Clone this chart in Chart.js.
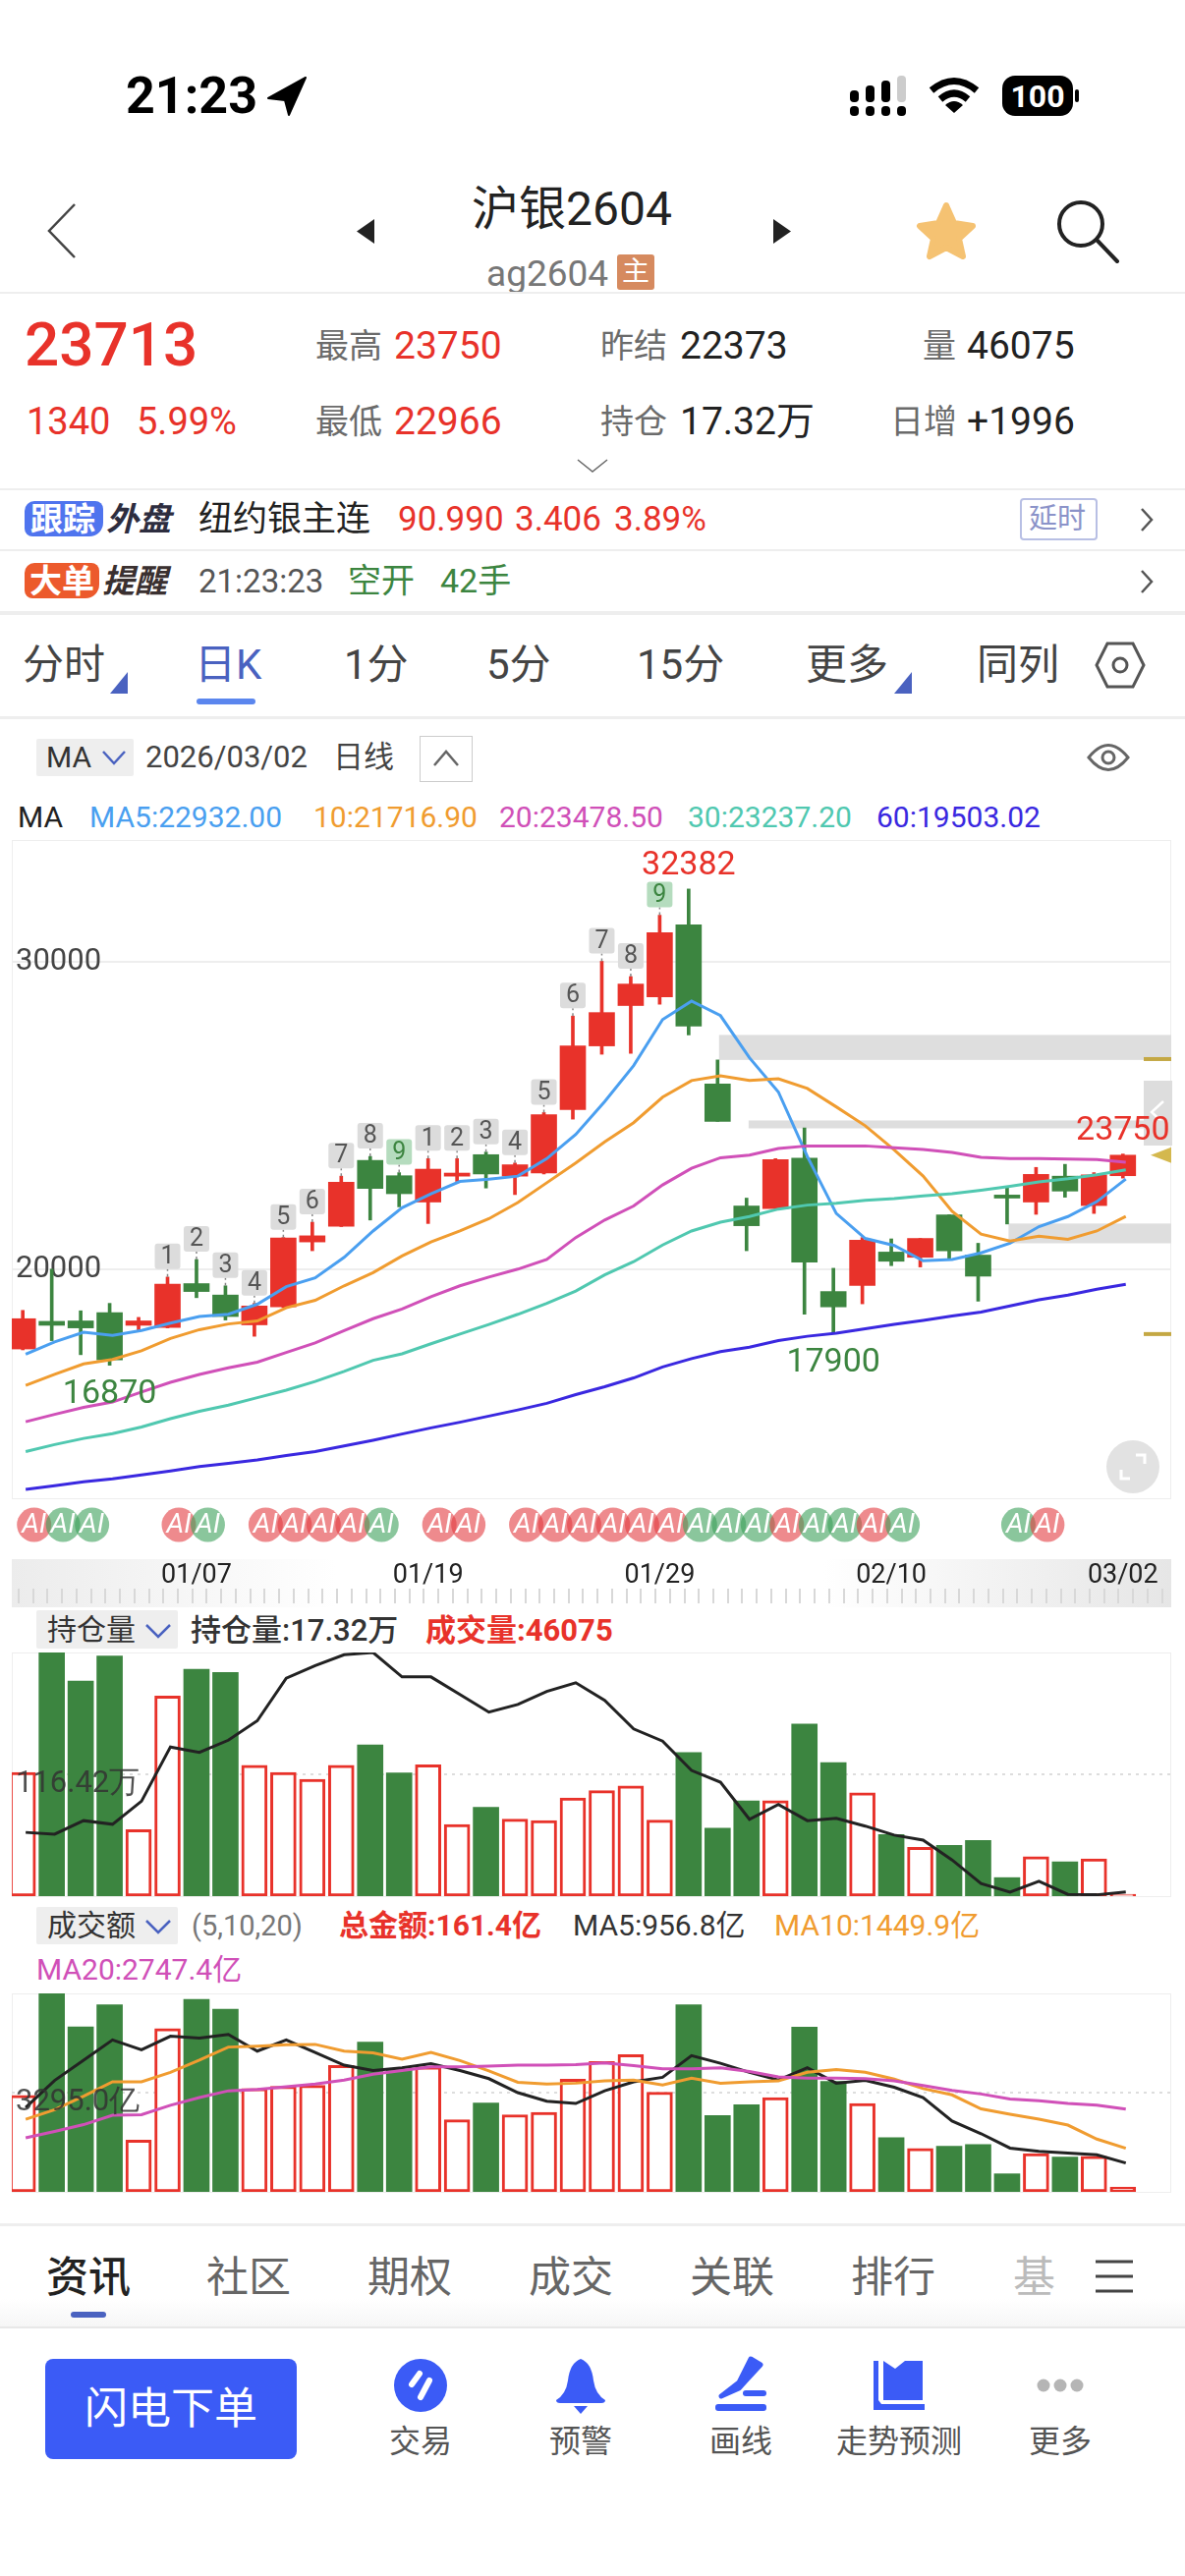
<!DOCTYPE html>
<html>
<head>
<meta charset="utf-8">
<script src="https://cdn.jsdelivr.net/npm/chart.js@4"></script>
<style>
html, body { margin: 0; padding: 0; background: #fff; }
#page { position: relative; width: 1206px; height: 2622px; overflow: hidden; font-family: Roboto, "Noto Sans CJK SC", sans-serif; color: #333; }
.t { position: absolute; white-space: nowrap; line-height: 1; transform: translateY(-50%); }
.b { position: absolute; }
.g { color: #6b6b6b; }
.r { color: #e8322a; }
canvas { position: absolute; }
svg { position: absolute; overflow: visible; }
</style>
</head>
<body>
<div id="page">
  <!-- status bar -->
  <div class="t" style="left:128px;top:98px;font-size:52px;font-weight:700;color:#000">21:23</div>
  <svg style="left:273px;top:79px" width="40" height="38"><path d="M38 0 L0 21 L17 23 L21 38 Z" fill="#000" stroke="#000" stroke-width="2" stroke-linejoin="round"/></svg>
  <svg style="left:865px;top:77px" width="60" height="42" fill="#000">
    <rect x="0" y="31" width="9" height="10" rx="4"/><rect x="16" y="31" width="9" height="10" rx="4"/><rect x="32" y="31" width="9" height="10" rx="4"/><rect x="48" y="31" width="9" height="10" rx="4"/>
    <rect x="0" y="15" width="9" height="12" rx="4"/><rect x="16" y="10" width="9" height="17" rx="4"/><rect x="32" y="5" width="9" height="22" rx="4"/><rect x="48" y="0" width="9" height="27" rx="4" fill="#ccc"/>
  </svg>
  <svg style="left:945px;top:79px" width="52" height="36" fill="none" stroke="#000" stroke-width="7"><path d="M3 13 Q26 -6 49 13"/><path d="M12 22 Q26 10 40 22"/><path d="M26 36 L17 28 Q26 20 35 28 Z" fill="#000" stroke="none"/></svg>
  <div class="b" style="left:1020px;top:77px;width:72px;height:41px;border-radius:13px;background:#000"></div>
  <div class="b" style="left:1094px;top:91px;width:4px;height:13px;border-radius:2px;background:#000"></div>
  <div class="t" style="left:1020px;width:72px;text-align:center;top:98px;font-size:32px;font-weight:700;color:#fff">100</div>

  <!-- title row -->
  <svg style="left:48px;top:207px" width="30" height="56" fill="none" stroke="#444" stroke-width="2.5"><path d="M28 1 L2 28 L28 55"/></svg>
  <svg style="left:362px;top:223px" width="20" height="25"><path d="M19 0 V25 L1 12.5 Z" fill="#222"/></svg>
  <svg style="left:786px;top:223px" width="20" height="25"><path d="M1 0 V25 L19 12.5 Z" fill="#222"/></svg>
  <div class="t" style="left:480px;top:213px;font-size:48px;color:#222">沪银2604</div>
  <div class="t" style="left:495px;top:278px;font-size:37px;color:#777">ag2604</div>
  <div class="b" style="left:628px;top:259px;width:38px;height:36px;background:#d68a5f;border-radius:3px"></div>
  <div class="t" style="left:628px;width:38px;text-align:center;top:277px;font-size:28px;color:#fff">主</div>
  <svg style="left:932px;top:205px" width="62" height="60"><path d="M31 4 L39 22 L58 25 L44 38 L48 56 L31 47 L14 56 L18 38 L4 25 L23 22 Z" fill="#f5c272" stroke="#f5c272" stroke-width="6" stroke-linejoin="round"/></svg>
  <svg style="left:1075px;top:204px" width="64" height="64" fill="none" stroke="#222" stroke-width="4"><circle cx="25" cy="24" r="22"/><path d="M41 40 L62 62" stroke-linecap="round"/></svg>
  <div class="b" style="left:0;top:297px;width:1206px;height:2px;background:#eee"></div>

  <!-- quote block -->
  <div class="t r" style="left:25px;top:351px;font-size:62px;font-weight:500">23713</div>
  <div class="t g" style="left:321px;top:352px;font-size:34px">最高</div>
  <div class="t r" style="left:401px;top:352px;font-size:39px">23750</div>
  <div class="t g" style="left:611px;top:352px;font-size:34px">昨结</div>
  <div class="t" style="left:692px;top:352px;font-size:39px;color:#222">22373</div>
  <div class="t g" style="left:939px;top:352px;font-size:34px">量</div>
  <div class="t" style="left:984px;top:352px;font-size:39px;color:#222">46075</div>
  <div class="t r" style="left:27px;top:429px;font-size:38px">1340</div>
  <div class="t r" style="left:139px;top:429px;font-size:38px">5.99%</div>
  <div class="t g" style="left:321px;top:429px;font-size:34px">最低</div>
  <div class="t r" style="left:401px;top:429px;font-size:39px">22966</div>
  <div class="t g" style="left:611px;top:429px;font-size:34px">持仓</div>
  <div class="t" style="left:692px;top:429px;font-size:39px;color:#222">17.32万</div>
  <div class="t g" style="left:906px;top:429px;font-size:34px">日增</div>
  <div class="t" style="left:984px;top:429px;font-size:39px;color:#222">+1996</div>
  <svg style="left:587px;top:467px" width="32" height="14" fill="none" stroke="#666" stroke-width="1.5"><path d="M1 1 L16 13 L31 1"/></svg>
  <div class="b" style="left:0;top:497px;width:1206px;height:2px;background:#eee"></div>

  <!-- follow rows -->
  <div class="b" style="left:25px;top:510px;width:80px;height:36px;border-radius:10px 8px 14px 8px;background:#4f74ee"></div>
  <div class="t" style="left:31px;top:528px;font-size:33px;font-weight:700;color:#fff">跟踪</div>
  <div class="t" style="left:108px;top:528px;font-size:33px;font-weight:700;font-style:italic;color:#2d2d3f">外盘</div>
  <div class="t" style="left:202px;top:528px;font-size:35px;color:#222">纽约银主连</div>
  <div class="t r" style="left:405px;top:528px;font-size:35px">90.990</div>
  <div class="t r" style="left:524px;top:528px;font-size:35px">3.406</div>
  <div class="t r" style="left:625px;top:528px;font-size:35px">3.89%</div>
  <div class="b" style="left:1038px;top:507px;width:75px;height:39px;border:2px solid #b8bfe4;border-radius:4px"></div>
  <div class="t" style="left:1047px;top:528px;font-size:29px;color:#8b93c9">延时</div>
  <svg style="left:1160px;top:516px" width="14" height="26" fill="none" stroke="#555" stroke-width="2.5"><path d="M2 2 L12 13 L2 24"/></svg>
  <div class="b" style="left:0;top:559px;width:1206px;height:2px;background:#eee"></div>
  <div class="b" style="left:25px;top:573px;width:76px;height:36px;border-radius:10px 8px 14px 8px;background:#ec5a2c"></div>
  <div class="t" style="left:30px;top:591px;font-size:33px;font-weight:700;color:#fff">大单</div>
  <div class="t" style="left:104px;top:591px;font-size:33px;font-weight:700;font-style:italic;color:#3a3030">提醒</div>
  <div class="t" style="left:202px;top:591px;font-size:33px;color:#555">21:23:23</div>
  <div class="t" style="left:354px;top:591px;font-size:34px;color:#3c8540">空开</div>
  <div class="t" style="left:448px;top:591px;font-size:34px;color:#3c8540">42手</div>
  <svg style="left:1160px;top:579px" width="14" height="26" fill="none" stroke="#555" stroke-width="2.5"><path d="M2 2 L12 13 L2 24"/></svg>
  <div class="b" style="left:0;top:622px;width:1206px;height:4px;background:#eee"></div>

  <!-- period tabs -->
  <div class="t" style="left:23px;top:677px;font-size:42px;color:#444">分时</div>
  <svg style="left:112px;top:684px" width="18" height="22"><path d="M18 0 V22 H0 Z" fill="#4a62c0"/></svg>
  <div class="t" style="left:198px;top:677px;font-size:42px;color:#4a62c0">日K</div>
  <div class="b" style="left:200px;top:711px;width:60px;height:6px;border-radius:3px;background:#5b86ee"></div>
  <div class="t" style="left:350px;top:677px;font-size:42px;color:#444">1分</div>
  <div class="t" style="left:495px;top:677px;font-size:42px;color:#444">5分</div>
  <div class="t" style="left:648px;top:677px;font-size:42px;color:#444">15分</div>
  <div class="t" style="left:820px;top:677px;font-size:42px;color:#444">更多</div>
  <svg style="left:910px;top:684px" width="18" height="22"><path d="M18 0 V22 H0 Z" fill="#4a62c0"/></svg>
  <div class="t" style="left:994px;top:677px;font-size:42px;color:#444">同列</div>
  <svg style="left:1114px;top:653px" width="52" height="48" fill="none" stroke="#555" stroke-width="3"><path d="M13 2 H39 L50 24 L39 46 H13 L2 24 Z"/><circle cx="26" cy="24" r="7"/></svg>
  <div class="b" style="left:0;top:729px;width:1206px;height:3px;background:#eee"></div>

  <!-- indicator row -->
  <div class="b" style="left:37px;top:752px;width:99px;height:38px;background:#eee;border-radius:2px"></div>
  <div class="t" style="left:47px;top:771px;font-size:30px;color:#333">MA</div>
  <svg style="left:104px;top:764px" width="24" height="14" fill="none" stroke="#4a62c0" stroke-width="2.5"><path d="M1 1 L12 13 L23 1"/></svg>
  <div class="t" style="left:148px;top:770px;font-size:31px;color:#444">2026/03/02</div>
  <div class="t" style="left:339px;top:770px;font-size:31px;color:#444">日线</div>
  <div class="b" style="left:427px;top:749px;width:52px;height:45px;border:1px solid #ccc"></div>
  <svg style="left:441px;top:764px" width="26" height="16" fill="none" stroke="#666" stroke-width="2.5"><path d="M1 15 L13 1 L25 15"/></svg>
  <svg style="left:1106px;top:756px" width="44" height="30" fill="none" stroke="#666" stroke-width="3"><path d="M2 15 Q22 -10 42 15 Q22 40 2 15 Z"/><circle cx="22" cy="15" r="6"/></svg>
  <div class="t" style="left:18px;top:832px;font-size:30px;color:#222">MA</div>
  <div class="t" style="left:91px;top:832px;font-size:30px;color:#4a9ff0">MA5:22932.00</div>
  <div class="t" style="left:319px;top:832px;font-size:30px;color:#f09c30">10:21716.90</div>
  <div class="t" style="left:508px;top:832px;font-size:30px;color:#d050b8">20:23478.50</div>
  <div class="t" style="left:700px;top:832px;font-size:30px;color:#50c8b0">30:23237.20</div>
  <div class="t" style="left:892px;top:832px;font-size:30px;color:#3a28e0">60:19503.02</div>

  <!-- main panel furniture, underneath the canvas -->
  <div class="b" style="left:12px;top:855px;width:1178px;height:669px;border:1px solid #eee"></div>
  <div class="b" style="left:1164px;top:1100px;width:29px;height:66px;background:#ddd"></div>
  <svg style="left:1170px;top:1120px" width="16" height="24" fill="none" stroke="#fff" stroke-width="2.5"><path d="M14 1 L2 12 L14 23"/></svg>
  <div class="b" style="left:1126px;top:1466px;width:54px;height:54px;border-radius:50%;background:#e2e2e2"></div>
  <svg style="left:1140px;top:1480px" width="26" height="26" fill="none" stroke="#fff" stroke-width="3"><path d="M1 16 V25 H10"/><path d="M16 1 H25 V10"/></svg>
  <div class="b" style="left:12px;top:1587px;width:1180px;height:49px;background:linear-gradient(to right,#ececec 0%,#fff 28%,#fff 70%,#e6e6e6 100%)"></div>
  <div class="b" style="left:18px;top:1617px;width:1174px;height:15px;background:repeating-linear-gradient(to right,#d8d8d8 0,#d8d8d8 2px,transparent 2px,transparent 14.73px)"></div>

  <!-- open interest header -->
  <div class="b" style="left:37px;top:1639px;width:144px;height:39px;background:#eee;border-radius:2px"></div>
  <div class="t" style="left:48px;top:1659px;font-size:30px;color:#333">持仓量</div>
  <svg style="left:148px;top:1653px" width="26" height="14" fill="none" stroke="#4a62c0" stroke-width="2.5"><path d="M1 1 L13 13 L25 1"/></svg>
  <div class="t" style="left:194px;top:1659px;font-size:31px;font-weight:500;color:#333">持仓量:17.32万</div>
  <div class="t" style="left:433px;top:1659px;font-size:31px;font-weight:700;color:#e8322a">成交量:46075</div>
  <div class="b" style="left:12px;top:1682px;width:1178px;height:247px;border:1px solid #eee"></div>

  <!-- turnover header -->
  <div class="b" style="left:37px;top:1941px;width:144px;height:38px;background:#eee;border-radius:2px"></div>
  <div class="t" style="left:48px;top:1960px;font-size:30px;color:#333">成交额</div>
  <svg style="left:148px;top:1954px" width="26" height="14" fill="none" stroke="#4a62c0" stroke-width="2.5"><path d="M1 1 L13 13 L25 1"/></svg>
  <div class="t" style="left:195px;top:1960px;font-size:29px;color:#777">(5,10,20)</div>
  <div class="t" style="left:345px;top:1960px;font-size:30px;font-weight:700;color:#e8322a">总金额:161.4亿</div>
  <div class="t" style="left:583px;top:1960px;font-size:30px;color:#333">MA5:956.8亿</div>
  <div class="t" style="left:788px;top:1960px;font-size:30px;color:#f09c30">MA10:1449.9亿</div>
  <div class="t" style="left:37px;top:2005px;font-size:30px;color:#d050b8">MA20:2747.4亿</div>
  <div class="b" style="left:12px;top:2029px;width:1178px;height:201px;border:1px solid #eee"></div>

  <!-- bottom tabs -->
  <div class="b" style="left:0;top:2263px;width:1206px;height:3px;background:#eee"></div>
  <div class="b" style="left:0;top:2340px;width:1206px;height:28px;background:linear-gradient(#fff,#f6f6f6)"></div>
  <div class="t" style="left:47px;top:2318px;font-size:43px;font-weight:500;color:#222">资讯</div>
  <div class="t" style="left:210px;top:2318px;font-size:43px;color:#666">社区</div>
  <div class="t" style="left:374px;top:2318px;font-size:43px;color:#666">期权</div>
  <div class="t" style="left:538px;top:2318px;font-size:43px;color:#666">成交</div>
  <div class="t" style="left:702px;top:2318px;font-size:43px;color:#666">关联</div>
  <div class="t" style="left:866px;top:2318px;font-size:43px;color:#666">排行</div>
  <div class="t" style="left:1031px;top:2318px;font-size:43px;color:#bbb">基</div>
  <svg style="left:1115px;top:2300px" width="38" height="34" stroke="#444" stroke-width="3"><path d="M0 2 H38 M0 17 H38 M0 32 H38"/></svg>
  <div class="b" style="left:72px;top:2353px;width:36px;height:6px;border-radius:3px;background:#4a62c0"></div>
  <div class="b" style="left:0;top:2368px;width:1206px;height:2px;background:#e8e8e8"></div>

  <!-- bottom bar -->
  <div class="b" style="left:46px;top:2401px;width:256px;height:102px;border-radius:8px;background:#3b5bf6"></div>
  <div class="t" style="left:46px;width:256px;text-align:center;top:2452px;font-size:44px;color:#fff">闪电下单</div>
  <svg style="left:401px;top:2401px" width="54" height="54"><circle cx="27" cy="27" r="27" fill="#3b5bf6"/><path d="M18 26 L26 15 M27 39 L36 22" stroke="#fff" stroke-width="6" stroke-linecap="round"/></svg>
  <svg style="left:566px;top:2401px" width="50" height="56" fill="#3b5bf6"><path d="M25 0 Q36 4 38 22 Q40 36 50 42 Q50 45 46 45 H4 Q0 45 0 42 Q10 36 12 22 Q14 4 25 0 Z"/><path d="M18 48 H32 L25 56 Z"/></svg>
  <svg style="left:726px;top:2401px" width="56" height="54" fill="#3b5bf6"><path d="M26 24 L38 0 L48 6 L26 30 L8 38 Z" stroke="#3b5bf6" stroke-width="5" stroke-linejoin="round"/><rect x="30" y="32" width="24" height="6" rx="3"/><rect x="2" y="46" width="52" height="7" rx="3"/></svg>
  <svg style="left:889px;top:2403px" width="54" height="50" fill="#3b5bf6"><path d="M8 44 H52 V50 H0 V0 H5 V40 Z"/><path d="M10 0 L22 8 L32 0 L50 0 V40 H10 Z" transform="translate(0,0)"/></svg>
  <svg style="left:1054px;top:2420px" width="50" height="16" fill="#b5b5b5"><circle cx="8" cy="8" r="6.5"/><circle cx="25" cy="8" r="6.5"/><circle cx="42" cy="8" r="6.5"/></svg>
  <div class="t" style="left:396px;top:2485px;font-size:32px;color:#555">交易</div>
  <div class="t" style="left:559px;top:2485px;font-size:32px;color:#555">预警</div>
  <div class="t" style="left:722px;top:2485px;font-size:32px;color:#555">画线</div>
  <div class="t" style="left:851px;top:2485px;font-size:32px;color:#555">走势预测</div>
  <div class="t" style="left:1047px;top:2485px;font-size:32px;color:#555">更多</div>

  <canvas id="mainChart" width="1180" height="784" style="left:12px;top:856px"></canvas>
  <canvas id="oiChart" width="1180" height="248" style="left:12px;top:1682px"></canvas>
  <canvas id="amtChart" width="1180" height="202" style="left:12px;top:2029px"></canvas>
</div>

<script>
// daily candles
const candleOpen = [17400,18300,18314,18586,18171,18100,19529,19157,18186,18771,20886,21400,23543,23043,22186,23029,23729,23029,23129,25200,27271,28586,28871,31214,26029,22057,21971,23614,19271,19471,20557,20386,21771,20457,22414,22186,23029,22071,23043];
const candleClose = [18386,18171,18086,17043,18314,19514,19271,18457,18800,21014,21086,22829,22629,22457,23257,23129,23100,23400,25029,27271,28357,29286,30957,27914,24814,21414,23571,20229,18771,20943,20257,21000,20600,19771,22314,23086,22543,23071,23713];
const candleHigh = [18657,20000,18643,18886,18429,19743,20314,19457,18886,21030,21529,23029,23671,23143,23600,23600,23814,23457,25100,28243,30029,29529,31529,32382,26814,22314,23600,24600,20029,21029,20986,21000,21771,20843,22657,23314,23414,23143,23750];
const candleLow = [17371,17671,17214,16870,18000,18086,19071,18343,17814,18750,20600,21386,21600,22029,21486,22857,22643,22429,23100,24886,27000,27029,28629,27629,24814,20600,21971,18529,17900,18871,20114,20071,20343,18957,21471,21786,22343,21814,22966];

const ma5 = [17229,17629,17943,17843,18000,18243,18457,18529,18857,19429,19714,20386,21243,22000,22457,22857,22929,23029,23600,24386,25457,26629,28129,28729,28257,26886,25771,23671,21814,21000,20771,20271,20314,20529,20843,21386,21714,22200,22932];
const ma10 = [16214,16571,16914,17057,17343,17743,18029,18214,18314,18743,18986,19457,19886,20429,20886,21243,21643,22171,22814,23457,24143,24771,25600,26143,26300,26143,26200,25886,25286,24671,23886,23029,21886,21143,20914,21071,20971,21243,21717];
const ma20 = [15029,15271,15500,15671,16000,16314,16571,16786,16971,17286,17600,18000,18386,18700,19100,19457,19743,20000,20314,21029,21600,22057,22743,23286,23629,23714,23929,24014,24014,24014,23957,23900,23800,23643,23600,23600,23586,23571,23479];
const ma30 = [14057,14286,14486,14643,14857,15129,15371,15571,15814,16057,16343,16671,17029,17243,17571,17886,18200,18529,18886,19286,19814,20243,20786,21243,21529,21714,21957,22086,22143,22243,22300,22386,22457,22571,22700,22843,22943,23071,23237];
const ma60 = [12829,12943,13071,13171,13300,13429,13571,13671,13786,13929,14057,14243,14429,14629,14829,15014,15214,15414,15629,15914,16171,16457,16814,17086,17314,17457,17671,17814,17914,18057,18200,18329,18471,18600,18800,19000,19157,19343,19503];

const priceTicks = [20000, 30000];

// TD sequence numbers above the candles
const seqIndex = [5,6,7,8,9,10,11,12,13,14,15,16,17,18,19,20,21,22];
const seqDigit = [1,2,3,4,5,6,7,8,9,1,2,3,4,5,6,7,8,9];

// high / low call-outs
const noteIndex = [23,3,28,38];
const noteValue = [32382,16870,17900,23750];
const noteAbove = [true,false,false,true];

// grey support/resistance zones, from a candle to the right edge
const zoneStart = [24.05,25.07,34.05];
const zoneTop = [27629,24843,21486];
const zoneBottom = [26814,24586,20843];
const goldLevels = [26843,17886];
const lastPrice = 23713;

// AI badges
const aiIndex = [0,1,2,5,6,8,9,10,11,12,14,15,17,18,19,20,21,22,23,24,25,26,27,28,29,30,34,35];
const aiUp = [1,0,0,1,0,1,1,1,1,0,1,1,1,1,1,1,1,1,0,0,0,1,0,0,1,0,0,1];

const dateIndex = [6,14,22,30,38];
const dateLabels = ["01/07","01/19","01/29","02/10","03/02"];

// volume in 万, open interest in 万
const volume = [118.2,232.8,205.6,229.4,63.6,191.3,216.8,213.8,125.1,118.2,111.7,125.1,144.6,117.7,125.5,68.4,84.8,73.6,72.3,93.9,100.8,105.2,72.7,137.2,64.9,90.9,91.3,164.5,127.7,98.7,58.9,46.7,48.5,53.2,17.7,37.7,32.9,35.5,1.7];
const openInterest = [27.88,27.56,29.96,29.32,33.40,43.00,42.04,44.20,47.64,55.16,57.40,59.32,59.72,55.40,55.40,52.28,49.16,50.52,52.84,54.36,51.24,46.20,44.04,38.84,36.76,30.20,32.84,29.96,30.36,29.00,27.40,26.52,23.00,18.84,17.32,19.24,16.92,16.84,17.32];

// turnover in 亿
const amount = [3205,6590,5482,6215,1722,5422,6395,6066,3430,3505,3535,4194,4972,4074,4149,2396,2950,2561,2636,3744,4328,4553,3310,6215,2531,2891,3130,5467,3669,2935,1797,1438,1513,1573,599,1273,1153,1183,161.4];
const amtMa5 = [2801,3699,4373,5047,4718,5167,5107,5227,4673,5047,4628,4208,4029,4119,4253,4029,3759,3295,3010,2935,3355,3654,3804,4523,4268,3969,3714,4119,3609,3699,3475,3130,2351,1932,1453,1348,1288,1228,956.8];
const amtMa10 = [2411,2726,3175,3654,3654,3969,4373,4808,4838,4883,4897,4673,4613,4403,4628,4358,4014,3639,3580,3609,3684,3714,3550,3774,3609,3654,3684,3969,4059,3969,3744,3430,3220,2756,2576,2411,2217,1752,1449.9];
const amtMa20 = [1797,2007,2232,2546,2561,2876,3130,3355,3400,3490,3580,3714,3909,4029,4149,4149,4179,4208,4208,4224,4283,4194,4089,4089,4119,3999,3819,3774,3774,3759,3684,3535,3370,3250,3085,3025,2935,2876,2747.4];

const RED = "#e8322a";
const GREEN = "#3c8540";
const lineShift = 0.1; // the averages sit a touch right of the candle centres

Chart.defaults.font.family = "Roboto";
Chart.defaults.animation = false;
Chart.defaults.responsive = false;
Chart.defaults.plugins.legend.display = false;
Chart.defaults.plugins.tooltip.enabled = false;

const isUp = i => candleClose[i] >= candleOpen[i];
const candleColor = ctx => isUp(ctx.dataIndex) ? RED : GREEN;
const idx = arr => arr.map((v, i) => ({x: i, y: v}));
const lineData = arr => arr.map((v, i) => ({x: i + lineShift, y: v}));

// tick labels must not push the plot area in, the frame is fixed
const noScalePadding = s => { s.paddingTop = 0; s.paddingBottom = 0; s.paddingLeft = 0; s.paddingRight = 0; };
const flatYAxis = s => { s.width = 0; noScalePadding(s); };

function lineSet(arr, color, yAxisID) {
    return {type: "line", data: lineData(arr), borderColor: color, borderWidth: 3, pointRadius: 0, tension: 0, order: 1, yAxisID: yAxisID || "y"};
}

function volumeBars(arr) {
    return {
        type: "bar",
        data: idx(arr),
        grouped: false,
        barThickness: 26,
        borderSkipped: false,
        borderWidth: ctx => isUp(ctx.dataIndex) ? 3 : 0,
        borderColor: RED,
        backgroundColor: ctx => isUp(ctx.dataIndex) ? "#fff" : GREEN,
        order: 2
    };
}

// bar charts switch offset on by default, a linear axis then widens its range
const xBase = {type: "linear", offset: false, min: -0.38, max: 39.67};

const overlays = {
    id: "overlays",
    beforeDatasetsDraw(chart) {
        const {ctx, chartArea, scales: {x, y}} = chart;
        ctx.save();
        ctx.fillStyle = "#dedede";
        zoneStart.forEach((s, i) => {
            const left = x.getPixelForValue(s);
            const top = y.getPixelForValue(zoneTop[i]);
            ctx.fillRect(left, top, chartArea.right - left, y.getPixelForValue(zoneBottom[i]) - top);
        });
        ctx.restore();
    },
    afterDatasetsDraw(chart) {
        const {ctx, chartArea, scales: {x, y}} = chart;
        ctx.save();
        ctx.textAlign = "center";
        ctx.textBaseline = "middle";

        // gold levels and last price marker
        ctx.fillStyle = "#c4a844";
        goldLevels.forEach(v => ctx.fillRect(chartArea.right - 28, y.getPixelForValue(v) - 2, 28, 4));
        const ly = y.getPixelForValue(lastPrice);
        ctx.beginPath();
        ctx.moveTo(chartArea.right - 21, ly);
        ctx.lineTo(chartArea.right, ly - 8);
        ctx.lineTo(chartArea.right, ly + 8);
        ctx.closePath();
        ctx.fillStyle = "#d4b84e";
        ctx.fill();

        // sequence boxes
        seqIndex.forEach((c, i) => {
            const px = x.getPixelForValue(c);
            const hy = y.getPixelForValue(candleHigh[c]);
            const nine = seqDigit[i] === 9;
            ctx.strokeStyle = "#888";
            ctx.lineWidth = 1.5;
            ctx.setLineDash([3, 3]);
            ctx.beginPath();
            ctx.moveTo(px, hy);
            ctx.lineTo(px, hy - 8);
            ctx.stroke();
            ctx.setLineDash([]);
            ctx.fillStyle = nine ? "#b5dcbe" : "#dcdcdc";
            ctx.beginPath();
            ctx.roundRect(px - 13, hy - 34, 26, 26, 3);
            ctx.fill();
            ctx.fillStyle = nine ? GREEN : "#555";
            ctx.font = "25px Roboto";
            ctx.fillText(seqDigit[i], px, hy - 20);
        });

        // high / low call-outs
        ctx.font = "34px Roboto";
        noteIndex.forEach((c, i) => {
            ctx.fillStyle = noteAbove[i] ? RED : GREEN;
            const py = y.getPixelForValue(noteValue[i]);
            ctx.fillText(noteValue[i], x.getPixelForValue(c), py + (noteAbove[i] ? -23 : 30));
        });

        // AI badges below the plot
        const by = chartArea.bottom + 27;
        aiIndex.forEach((c, i) => {
            const px = x.getPixelForValue(c) + 11.5;
            ctx.fillStyle = aiUp[i] ? "rgba(226,60,65,.6)" : "rgba(60,160,90,.6)";
            ctx.beginPath();
            ctx.arc(px, by, 17.5, 0, Math.PI * 2);
            ctx.fill();
        });
        ctx.fillStyle = "#fff";
        ctx.font = "italic 28px Roboto";
        aiIndex.forEach(c => ctx.fillText("AI", x.getPixelForValue(c) + 11.5, by + 1));
        ctx.restore();
    }
};

new Chart(document.getElementById("mainChart"), {
    type: "bar",
    data: {
        datasets: [
            lineSet(ma60, "#3a28e0"),
            lineSet(ma30, "#50c8b0"),
            lineSet(ma20, "#d050b8"),
            lineSet(ma10, "#f09c30"),
            lineSet(ma5, "#4a9ff0"),
            {data: candleOpen.map((v, i) => ({x: i, y: [v, candleClose[i]]})), backgroundColor: candleColor, barThickness: 26, grouped: false, order: 2},
            {data: candleLow.map((v, i) => ({x: i, y: [v, candleHigh[i]]})), backgroundColor: candleColor, barThickness: 3, grouped: false, order: 3}
        ]
    },
    options: {
        layout: {padding: 0},
        scales: {
            x: {
                ...xBase,
                grid: {display: false},
                border: {display: false},
                afterBuildTicks: s => { s.ticks = dateIndex.map(v => ({value: v})); },
                afterFit: s => { s.height = 115; noScalePadding(s); },
                ticks: {
                    autoSkip: false, maxRotation: 0, padding: 55,
                    color: "#222", font: {size: 27},
                    callback: v => dateLabels[dateIndex.indexOf(v)]
                }
            },
            y: {
                min: 12538, max: 33946,
                border: {display: false},
                grid: {color: "#eee", lineWidth: 2, drawTicks: false},
                afterBuildTicks: s => { s.ticks = priceTicks.map(v => ({value: v})); },
                afterFit: flatYAxis,
                ticks: {mirror: true, padding: 4, color: "#444", font: {size: 31}, labelOffset: 0, callback: v => String(v)}
            }
        }
    },
    plugins: [overlays]
});

function subPanel(id, datasets, yMax, mid, midLabel, extraScales) {
    new Chart(document.getElementById(id), {
        type: "bar",
        data: {datasets: datasets},
        options: {
            layout: {padding: 0},
            scales: {
                x: {...xBase, display: false},
                y: {
                    min: 0, max: yMax,
                    border: {display: false, dash: [3, 5]},
                    grid: {color: "#ddd", lineWidth: 2, drawTicks: false},
                    afterBuildTicks: s => { s.ticks = [{value: mid}]; },
                    afterFit: flatYAxis,
                    ticks: {mirror: true, padding: 4, z: 1, labelOffset: 10, color: "rgba(50,50,50,.85)", font: {size: 31}, callback: () => midLabel}
                },
                ...extraScales
            }
        }
    });
}

subPanel("oiChart",
    [lineSet(openInterest, "#222", "oi"), volumeBars(volume)],
    232.84, 116.42, "116.42万",
    {oi: {display: false, min: 16.6, max: 59.72}});

subPanel("amtChart",
    [lineSet(amtMa20, "#d050b8"), lineSet(amtMa10, "#f09c30"), lineSet(amtMa5, "#222"), volumeBars(amount)],
    6590, 3295, "3295.0亿", {});
</script>
</body>
</html>
